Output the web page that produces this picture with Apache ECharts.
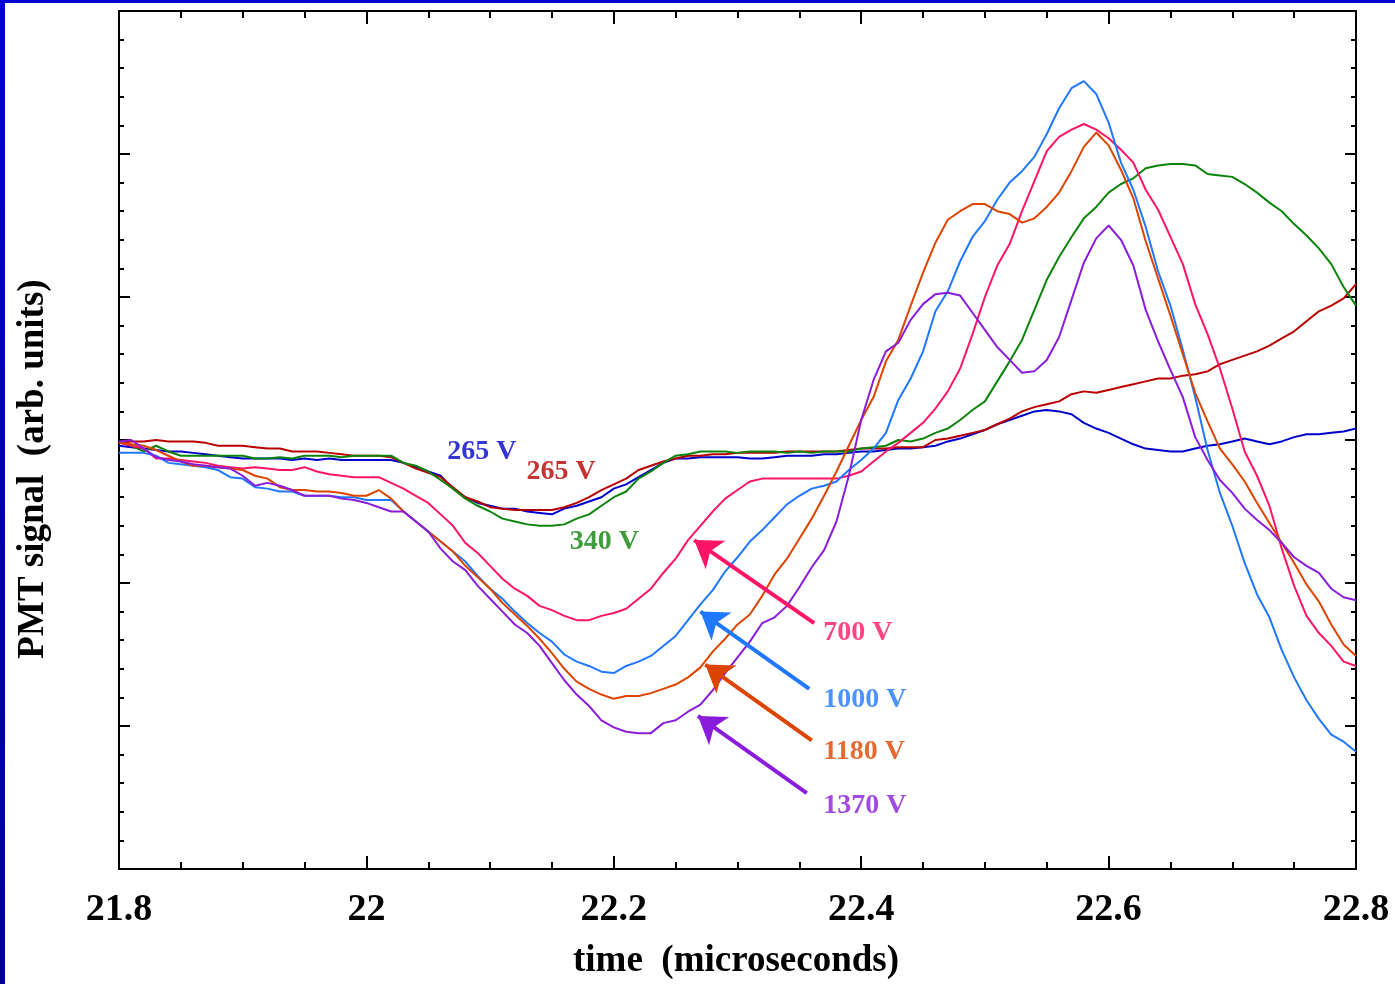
<!DOCTYPE html>
<html>
<head>
<meta charset="utf-8">
<script src="https://cdn.jsdelivr.net/npm/echarts@6/dist/echarts.min.js"></script>
<style>
  html, body { margin: 0; padding: 0; width: 1395px; height: 984px; overflow: hidden;
    background: linear-gradient(to bottom, #0000d0, #00008a); }
  #chart { position: absolute; left: 5px; top: 3px; width: 1390px; height: 981px; background: #fff; }
</style>
</head>
<body>
<div id="chart"></div>
<script>
// sample times (microseconds)
const time = [
  21.80, 21.81, 21.82, 21.83, 21.84, 21.85, 21.86, 21.87, 21.88, 21.89,
  21.90, 21.91, 21.92, 21.93, 21.94, 21.95, 21.96, 21.97, 21.98, 21.99,
  22.00, 22.01, 22.02, 22.03, 22.04, 22.05, 22.06, 22.07, 22.08, 22.09,
  22.10, 22.11, 22.12, 22.13, 22.14, 22.15, 22.16, 22.17, 22.18, 22.19,
  22.20, 22.21, 22.22, 22.23, 22.24, 22.25, 22.26, 22.27, 22.28, 22.29,
  22.30, 22.31, 22.32, 22.33, 22.34, 22.35, 22.36, 22.37, 22.38, 22.39,
  22.40, 22.41, 22.42, 22.43, 22.44, 22.45, 22.46, 22.47, 22.48, 22.49,
  22.50, 22.51, 22.52, 22.53, 22.54, 22.55, 22.56, 22.57, 22.58, 22.59,
  22.60, 22.61, 22.62, 22.63, 22.64, 22.65, 22.66, 22.67, 22.68, 22.69,
  22.70, 22.71, 22.72, 22.73, 22.74, 22.75, 22.76, 22.77, 22.78, 22.79,
  22.80
];

// PMT signal, arb. units
const v265blue = [
  -4, -5, -6, -7, -8, -8, -9, -10, -11, -12,
  -13, -13, -13, -13, -14, -13, -14, -13, -14, -14,
  -14, -14, -14, -16, -19, -22, -25, -34, -40, -44,
  -46, -48, -48, -50, -51, -52, -48, -46, -43, -40,
  -34, -31, -26, -21, -16, -13, -13, -12, -12, -12,
  -12, -13, -13, -12, -11, -11, -11, -10, -10, -9,
  -8, -8, -7, -6, -6, -5, -4, -1, 1, 4,
  7, 11, 14, 17, 20, 21, 20, 18, 12, 8,
  5, 1, -3, -6, -7, -8, -8, -6, -4, -3,
  -1, 1, -1, -3, -1, 2, 4, 4, 5, 6,
  8
];
const v265red = [
  -2, -1, -1, 0, -1, -1, -1, -2, -4, -4,
  -4, -5, -6, -6, -8, -8, -8, -9, -10, -11,
  -11, -11, -12, -16, -20, -23, -26, -33, -40, -43,
  -47, -48, -49, -49, -49, -49, -47, -44, -40, -35,
  -31, -27, -21, -18, -15, -13, -11, -11, -10, -10,
  -9, -9, -9, -9, -8, -8, -8, -8, -8, -7,
  -6, -6, -6, -5, -5, -5, 0, 1, 3, 5,
  7, 11, 15, 20, 23, 25, 27, 32, 34, 33,
  35, 37, 39, 41, 43, 43, 45, 46, 48, 53,
  56, 59, 62, 66, 71, 76, 83, 90, 94, 99,
  109
];
const v340 = [
  -1, -4, -8, -4, -8, -11, -11, -11, -11, -11,
  -11, -13, -13, -12, -13, -11, -11, -11, -12, -11,
  -11, -11, -11, -16, -18, -22, -28, -34, -41, -46,
  -50, -55, -57, -59, -60, -60, -59, -55, -52, -46,
  -40, -36, -27, -22, -16, -11, -10, -8, -8, -8,
  -9, -8, -8, -8, -9, -8, -9, -8, -8, -8,
  -6, -5, -4, 0, -1, 1, 5, 8, 14, 21,
  27, 41, 55, 70, 91, 112, 128, 142, 155, 163,
  173, 179, 183, 190, 192, 193, 193, 192, 186, 185,
  184, 179, 173, 166, 160, 151, 143, 134, 123, 107,
  94
];
const v700 = [
  -2, -4, -6, -13, -13, -14, -15, -16, -18, -19,
  -20, -19, -20, -21, -21, -19, -22, -24, -25, -26,
  -26, -26, -30, -34, -39, -44, -52, -60, -72, -79,
  -88, -97, -104, -109, -116, -119, -123, -126, -126, -123,
  -121, -118, -111, -104, -93, -83, -70, -60, -50, -41,
  -35, -29, -27, -27, -27, -27, -27, -27, -27, -25,
  -22, -15, -8, -2, 5, 12, 22, 34, 50, 74,
  100, 122, 137, 160, 181, 202, 212, 217, 221, 217,
  211, 203, 194, 175, 161, 142, 123, 95, 74, 50,
  22, -8, -25, -46, -76, -102, -123, -135, -144, -155,
  -158
];
const v1000 = [
  -9, -9, -9, -11, -16, -17, -18, -19, -21, -26,
  -27, -33, -34, -36, -36, -39, -39, -39, -40, -40,
  -42, -42, -42, -50, -57, -64, -71, -78, -85, -95,
  -104, -111, -120, -128, -135, -141, -150, -155, -158, -162,
  -163, -158, -155, -151, -144, -137, -126, -115, -105, -92,
  -82, -71, -63, -54, -45, -39, -34, -32, -29, -21,
  -14, -6, 5, 28, 43, 62, 90, 104, 125, 142,
  153, 168, 180, 188, 198, 214, 232, 246, 251, 242,
  222, 194, 175, 149, 118, 94, 63, 30, -7, -37,
  -60, -86, -108, -124, -147, -166, -182, -195, -206, -211,
  -218
];
const v1180 = [
  -2, -3, -4, -7, -11, -15, -18, -18, -19, -20,
  -21, -25, -27, -33, -35, -35, -36, -36, -37, -39,
  -39, -35, -41, -50, -57, -64, -71, -78, -88, -96,
  -104, -114, -122, -130, -139, -149, -160, -169, -174, -178,
  -181, -179, -179, -177, -174, -171, -166, -159, -148, -139,
  -129, -122, -109, -94, -83, -69, -55, -39, -22, -4,
  14, 30, 55, 70, 94, 117, 138, 154, 160, 165,
  165, 160, 158, 152, 155, 163, 173, 188, 205, 215,
  206, 189, 169, 139, 113, 87, 60, 33, 13, -6,
  -17, -29, -44, -58, -72, -86, -101, -113, -129, -143,
  -151
];
const v1370 = [
  -1, 0, -6, -12, -14, -15, -17, -18, -19, -20,
  -25, -32, -30, -32, -35, -39, -39, -39, -41, -42,
  -44, -47, -50, -50, -57, -64, -76, -85, -91, -102,
  -111, -120, -129, -135, -144, -156, -168, -178, -186, -196,
  -201, -204, -205, -205, -198, -196, -190, -185, -175, -163,
  -152, -141, -128, -124, -116, -103, -89, -77, -57, -25,
  14, 42, 62, 68, 84, 95, 102, 103, 101, 89,
  77, 65, 56, 47, 48, 56, 72, 98, 124, 141,
  150, 140, 122, 91, 69, 49, 30, 2, -14, -28,
  -37, -48, -56, -63, -72, -82, -88, -93, -104, -110,
  -112
];

// annotations
const labelText = ['265 V', '265 V', '340 V', '700 V', '1000 V', '1180 V', '1370 V'];
const labelAt = [[22.065, -8], [22.129, -22], [22.164, -71], [22.369, -135], [22.369, -182], [22.369, -218], [22.369, -256]];
const arrowFrom = [[22.362, -128], [22.358, -174], [22.360, -210], [22.356, -247]];
const arrowTo = [[22.265, -70], [22.270, -120], [22.274, -157], [22.268, -193]];

const FONT = '"Liberation Serif", "Times New Roman", serif';
const BLUE = '#0000cc', RED = '#b80000', GREEN = '#0c840c', PINK = '#ff1466',
      SKY = '#1f78ff', ORANGE = '#dd4400', PURPLE = '#8a1cdc';

const traces = [
  { data: v265blue, color: BLUE },
  { data: v265red, color: RED },
  { data: v340, color: GREEN },
  { data: v700, color: PINK },
  { data: v1000, color: SKY },
  { data: v1180, color: ORANGE },
  { data: v1370, color: PURPLE },
];
const labelColors = [BLUE, RED, GREEN, PINK, SKY, ORANGE, PURPLE];
const arrowColors = [PINK, SKY, ORANGE, PURPLE];

const axisBlack = { color: '#000', width: 2 };

function xAxisOpt(pos, labels) {
  return {
    type: 'value', position: pos, min: 21.8, max: 22.8, interval: 0.2,
    axisLine: { show: true, onZero: false, lineStyle: axisBlack },
    axisTick: { show: true, inside: true, length: 13, lineStyle: axisBlack },
    minorTick: { show: true, splitNumber: 4, length: 7, lineStyle: axisBlack },
    splitLine: { show: false },
    axisLabel: { show: labels, fontFamily: FONT, fontWeight: 'bold', fontSize: 38, color: '#000', margin: 22 },
  };
}
function yAxisOpt(pos) {
  return {
    type: 'value', position: pos, min: -300, max: 300, interval: 100,
    axisLine: { show: true, onZero: false, lineStyle: axisBlack },
    axisTick: { show: true, inside: true, length: 11, lineStyle: axisBlack },
    minorTick: { show: true, splitNumber: 5, length: 5, lineStyle: axisBlack },
    splitLine: { show: false },
    axisLabel: { show: false },
  };
}

const chart = echarts.init(document.getElementById('chart'));

chart.setOption({
  animation: false,
  backgroundColor: '#fff',
  grid: { left: 114, top: 8, right: 39, bottom: 115, outerBoundsMode: 'none' },
  xAxis: [xAxisOpt('bottom', true), xAxisOpt('top', false)],
  yAxis: [yAxisOpt('left'), yAxisOpt('right')],
  graphic: [
    { type: 'text', x: 731, y: 958,
      style: { text: 'time  (microseconds)', align: 'center', verticalAlign: 'middle',
               font: 'bold 37px ' + FONT, fill: '#000' } },
    { type: 'text', x: 28, y: 466, rotation: Math.PI / 2,
      style: { text: 'PMT signal  (arb. units)', align: 'center', verticalAlign: 'middle',
               font: 'bold 37px ' + FONT, fill: '#000' } },
  ],
  series: [
    ...traces.map(t => ({
      type: 'line',
      xAxisIndex: 0, yAxisIndex: 0,
      showSymbol: false,
      lineStyle: { color: t.color, width: 2 },
      itemStyle: { color: t.color },
      data: t.data.map((v, i) => [time[i], v]),
      silent: true,
    })),
    {
      type: 'lines',
      coordinateSystem: 'cartesian2d',
      xAxisIndex: 0, yAxisIndex: 0,
      symbol: ['none', 'arrow'],
      symbolSize: 26,
      lineStyle: { width: 4, opacity: 1, curveness: 0 },
      data: arrowFrom.map((f, i) => ({
        coords: [f, arrowTo[i]],
        lineStyle: { color: arrowColors[i] },
      })),
      silent: true,
      z: 5,
    },
    {
      type: 'scatter',
      xAxisIndex: 0, yAxisIndex: 0,
      symbolSize: 1,
      itemStyle: { color: 'rgba(0,0,0,0)' },
      label: {
        show: true, position: 'right', distance: 0,
        fontFamily: FONT, fontWeight: 'bold', fontSize: 28,
        formatter: p => p.name,
      },
      data: labelAt.map((p, i) => ({
        name: labelText[i], value: p,
        label: { color: labelColors[i] },
      })),
      silent: true,
      z: 6,
    },
  ],
});
</script>
</body>
</html>
